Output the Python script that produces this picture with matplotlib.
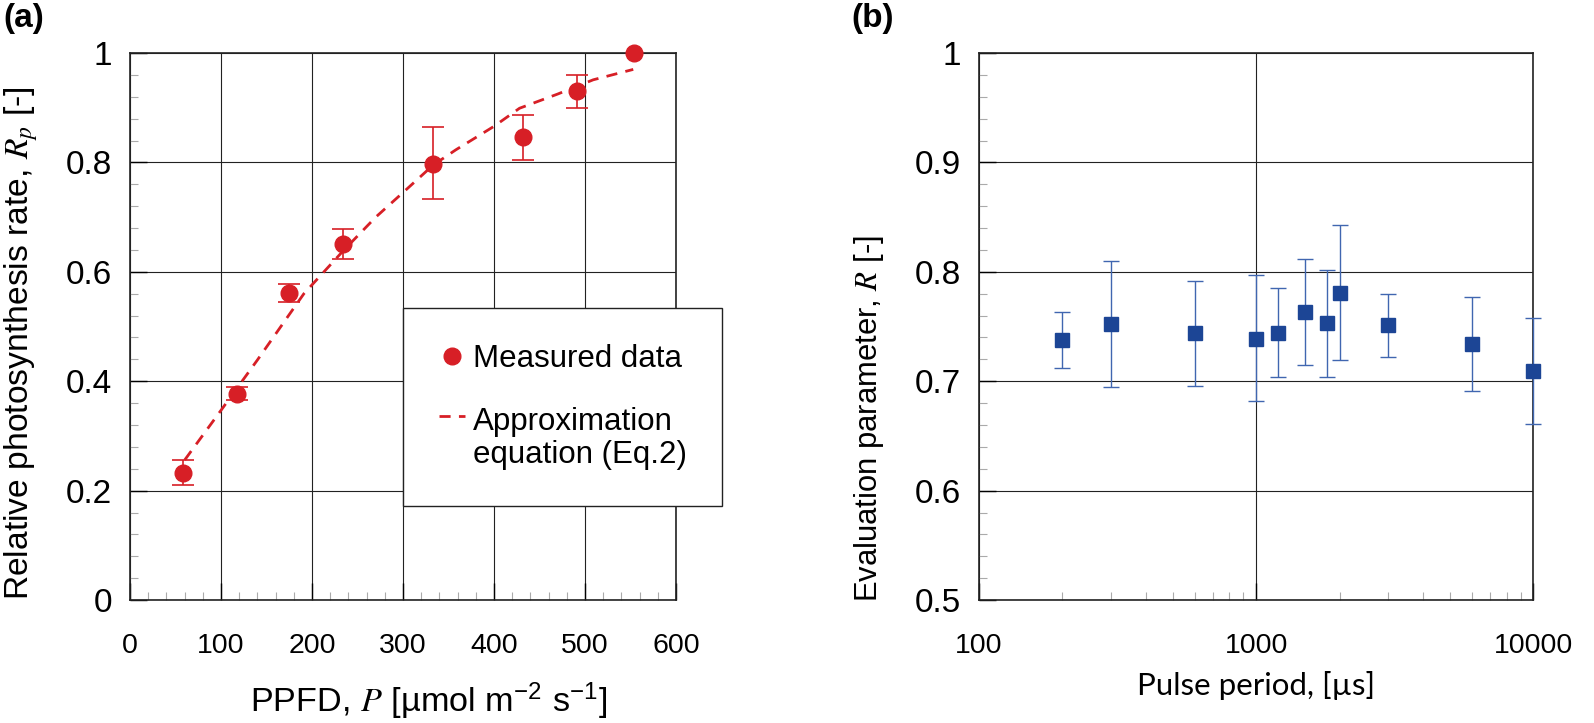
import matplotlib
matplotlib.use("Agg")
import matplotlib.pyplot as plt
from matplotlib.legend_handler import HandlerLine2D
from matplotlib.ticker import MultipleLocator, FixedLocator, NullFormatter

plt.rcParams["font.family"] = ["Liberation Sans", "DejaVu Sans"]
plt.rcParams["mathtext.fontset"] = "stix"

RED = "#d71f26"
BLUE = "#1c4595"
BLUE_ERR = "#4066b0"

# panel (a): relative photosynthesis rate vs PPFD
ppfd = [58, 118, 175, 234, 333, 432, 491, 554]
rate = [0.233, 0.377, 0.561, 0.650, 0.798, 0.846, 0.931, 1.0]
rate_low = [0.210, 0.366, 0.544, 0.623, 0.733, 0.804, 0.900, 1.0]
rate_high = [0.256, 0.389, 0.578, 0.678, 0.865, 0.887, 0.960, 1.0]

# approximation curve (Eq.2)
fit_x = [60, 100, 140, 191, 234, 270, 300, 333, 358, 400, 428, 470, 509, 553]
fit_y = [0.256, 0.347, 0.439, 0.560, 0.638, 0.700, 0.745, 0.795, 0.823, 0.866, 0.899, 0.925, 0.951, 0.970]

# panel (b): evaluation parameter vs pulse period
period = [200, 300, 600, 1000, 1200, 1500, 1800, 2000, 3000, 6000, 10000]
r_val = [0.738, 0.7525, 0.744, 0.739, 0.744, 0.763, 0.753, 0.781, 0.751, 0.734, 0.709]
r_low = [0.712, 0.6945, 0.696, 0.682, 0.704, 0.715, 0.704, 0.719, 0.722, 0.691, 0.661]
r_high = [0.7635, 0.810, 0.7915, 0.797, 0.785, 0.812, 0.802, 0.843, 0.780, 0.777, 0.758]


class FirstLineHandler(HandlerLine2D):
    # put the dashed sample next to the first line of a two-line label
    def create_artists(self, legend, orig_handle, xdescent, ydescent, width, height, fontsize, trans):
        return super().create_artists(legend, orig_handle, xdescent, ydescent - 1.45 * fontsize,
                                      width, height, fontsize, trans)


def style_axes(ax, xsize, ysize):
    ax.grid(which="major", color="#222222", linewidth=0.8)
    ax.tick_params(which="major", direction="in", length=12, width=1.0,
                   top=False, right=False)
    ax.tick_params(axis="x", which="major", labelsize=xsize, pad=24)
    ax.tick_params(axis="y", which="major", labelsize=ysize, pad=13)
    ax.tick_params(which="minor", direction="in", length=6, width=0.8,
                   color="#aaaaaa", top=False, right=False)
    for s in ax.spines.values():
        s.set_linewidth(1.2)
        s.set_color("#222222")
    ax.set_axisbelow(True)


fig = plt.figure(figsize=(15.94, 7.23), dpi=100)

# ---- (a)
ax1 = fig.add_axes([0.0816, 0.170, 0.3425, 0.7567])
err_a = [[v - l for v, l in zip(rate, rate_low)], [h - v for v, h in zip(rate, rate_high)]]
ax1.errorbar(ppfd[:-1], rate[:-1], yerr=[e[:-1] for e in err_a], fmt="none",
             ecolor=RED, elinewidth=1.2, capsize=8, capthick=1.2, zorder=3)
fit_line, = ax1.plot(fit_x, fit_y, color=RED, linestyle=(0, (4, 3)), linewidth=2,
                     label="Approximation\nequation (Eq.2)", zorder=4)
pts, = ax1.plot(ppfd, rate, "o", color=RED, markersize=12, label="Measured data",
                zorder=5, clip_on=False)
ax1.set_xlim(0, 600)
ax1.set_ylim(0, 1)
ax1.xaxis.set_major_locator(MultipleLocator(100))
ax1.xaxis.set_minor_locator(MultipleLocator(20))
ax1.yaxis.set_minor_locator(MultipleLocator(0.04))
ax1.set_yticks([0, 0.2, 0.4, 0.6, 0.8, 1.0])
ax1.set_yticklabels(["0", "0.2", "0.4", "0.6", "0.8", "1"])
style_axes(ax1, 20.5, 24)
ax1.set_xlabel(r"PPFD, $P$ [µmol m$^{\mathregular{-2}}$ s$^{\mathregular{-1}}$]", fontsize=24.7)
ax1.xaxis.set_label_coords(0.2688, 0.059, transform=fig.transFigure)
ax1.set_ylabel(r"Relative photosynthesis rate, $R_p$ [-]", fontsize=24.2)
ax1.yaxis.set_label_coords(0.025, 0.526, transform=fig.transFigure)

leg = ax1.legend([pts, fit_line], ["Measured data", "Approximation\nequation (Eq.2)"],
                 loc="upper left", bbox_to_anchor=(0.2528, 0.574, 0.2001, 0.0),
                 bbox_transform=fig.transFigure, mode="expand",
                 handler_map={fit_line: FirstLineHandler()},
                 fontsize=22.5, frameon=True, fancybox=False, framealpha=1,
                 edgecolor="#222222", borderpad=1.15, labelspacing=1.06,
                 handlelength=0.85, handletextpad=0.25, borderaxespad=0)
for t in leg.get_texts():
    t.set_linespacing(1.12)
leg.get_frame().set_linewidth(1.0)
leg.set_zorder(10)

fig.text(0.002, 0.975, "(a)", fontsize=24, fontweight="bold", va="center", ha="left")

# ---- (b)
ax2 = fig.add_axes([0.614, 0.170, 0.348, 0.7567])
err_b = [[v - l for v, l in zip(r_val, r_low)], [h - v for v, h in zip(r_val, r_high)]]
eb = ax2.errorbar(period, r_val, yerr=err_b, fmt="none", ecolor=BLUE_ERR,
                  elinewidth=1.0, capsize=6, capthick=1.0, zorder=3)
for art in eb.lines[1] + eb.lines[2]:
    art.set_clip_on(False)
ax2.plot(period, r_val, "s", color=BLUE, markersize=10.5, zorder=5, clip_on=False)
ax2.set_xscale("log")
ax2.set_xlim(100, 10000)
ax2.set_ylim(0.5, 1.0)
ax2.xaxis.set_major_locator(FixedLocator([100, 1000, 10000]))
ax2.xaxis.set_minor_locator(FixedLocator([200, 300, 400, 500, 600, 700, 800, 900,
                                          2000, 3000, 4000, 5000, 6000, 7000, 8000, 9000]))
ax2.xaxis.set_minor_formatter(NullFormatter())
ax2.set_xticklabels(["100", "1000", "10000"])
ax2.set_yticks([0.5, 0.6, 0.7, 0.8, 0.9, 1.0])
ax2.set_yticklabels(["0.5", "0.6", "0.7", "0.8", "0.9", "1"])
ax2.yaxis.set_minor_locator(MultipleLocator(0.02))
style_axes(ax2, 20.5, 24)
ax2.grid(which="minor", visible=False)
ax2.set_xlabel("Pulse period, [µs]", fontsize=22.5, family=["Lato", "DejaVu Sans"])
ax2.xaxis.set_label_coords(0.788, 0.072, transform=fig.transFigure)
ax2.set_ylabel(r"Evaluation parameter, $R$ [-]", fontsize=22.3)
ax2.yaxis.set_label_coords(0.556, 0.4215, transform=fig.transFigure)

fig.text(0.534, 0.975, "(b)", fontsize=24, fontweight="bold", va="center", ha="left")

fig.savefig("out.png", dpi=100)
